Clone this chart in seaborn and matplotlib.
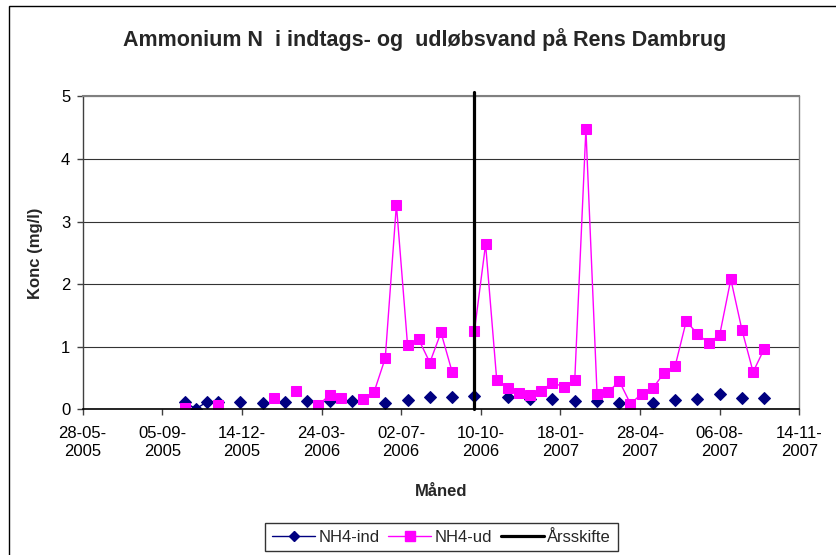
import matplotlib
matplotlib.use("Agg")
import matplotlib.pyplot as plt
from matplotlib.lines import Line2D
from matplotlib.patches import Rectangle
import pandas as pd
import seaborn as sns

# NH4 ind (indtag) - maalinger
ind_dates = ["2005-10-03", "2005-10-17", "2005-10-31", "2005-11-14", "2005-12-12",
             "2006-01-09", "2006-02-06", "2006-03-06", "2006-04-03", "2006-05-01",
             "2006-06-12", "2006-07-10", "2006-08-07", "2006-09-04", "2006-10-02",
             "2006-11-13", "2006-12-11", "2007-01-08", "2007-02-05", "2007-03-05",
             "2007-04-02", "2007-05-14", "2007-06-11", "2007-07-09", "2007-08-06",
             "2007-09-03", "2007-10-01"]
ind_vals = [0.12, 0.01, 0.12, 0.12, 0.12,
            0.10, 0.12, 0.14, 0.14, 0.14,
            0.10, 0.15, 0.20, 0.20, 0.21,
            0.20, 0.16, 0.16, 0.14, 0.14,
            0.11, 0.11, 0.15, 0.16, 0.25,
            0.18, 0.19]
# sammenhaengende stykker (tomme celler giver huller)
ind_seg = [0, 0, 0, 0, 1,
           2, 3, 4, 5, 6,
           7, 8, 9, 10, 11,
           12, 13, 14, 15, 16,
           17, 18, 19, 20, 21,
           22, 23]

# NH4 ud (udloeb)
ud_dates = ["2005-10-03", "2005-11-14", "2006-01-23", "2006-02-20", "2006-03-20",
            "2006-04-03", "2006-04-17", "2006-05-15", "2006-05-29", "2006-06-12",
            "2006-06-26", "2006-07-10", "2006-07-24", "2006-08-07", "2006-08-21",
            "2006-09-04", "2006-10-02", "2006-10-16", "2006-10-30", "2006-11-13",
            "2006-11-27", "2006-12-11", "2006-12-25", "2007-01-08", "2007-01-22",
            "2007-02-05", "2007-02-19", "2007-03-05", "2007-03-19", "2007-04-02",
            "2007-04-16", "2007-04-30", "2007-05-14", "2007-05-28", "2007-06-11",
            "2007-06-25", "2007-07-09", "2007-07-23", "2007-08-06", "2007-08-20",
            "2007-09-03", "2007-09-17", "2007-10-01"]
ud_vals = [0.03, 0.07, 0.19, 0.30, 0.07,
           0.23, 0.19, 0.17, 0.28, 0.82,
           3.27, 1.03, 1.12, 0.75, 1.23,
           0.60, 1.25, 2.64, 0.47, 0.34,
           0.27, 0.23, 0.30, 0.43, 0.36,
           0.47, 4.48, 0.25, 0.28, 0.45,
           0.09, 0.25, 0.34, 0.58, 0.69,
           1.41, 1.21, 1.06, 1.19, 2.08,
           1.27, 0.60, 0.97]
ud_seg = [0, 1, 2, 3, 4,
          4, 4, 5, 5, 5,
          5, 5, 5, 5, 5,
          5, 6, 6, 6, 6,
          6, 6, 6, 6, 6,
          6, 6, 6, 6, 6,
          6, 6, 6, 6, 6,
          6, 6, 6, 6, 6,
          6, 6, 6]

aarsskifte = "2006-10-01"

x_ticks = ["2005-05-28", "2005-09-05", "2005-12-14", "2006-03-24", "2006-07-02",
           "2006-10-10", "2007-01-18", "2007-04-28", "2007-08-06", "2007-11-14"]

sns.set_style("white")
plt.rcParams["font.family"] = ["Liberation Sans", "DejaVu Sans"]

df_ind = pd.DataFrame({"dato": pd.to_datetime(ind_dates), "konc": ind_vals, "seg": ind_seg})
df_ud = pd.DataFrame({"dato": pd.to_datetime(ud_dates), "konc": ud_vals, "seg": ud_seg})

IND_COL = "#000080"
UD_COL = "#FF00FF"

fig = plt.figure(figsize=(8.36, 5.55), dpi=100)
ax = fig.add_axes([0.0989, 0.2622, 0.8572, 0.5640])

sns.lineplot(data=df_ind, x="dato", y="konc", units="seg", estimator=None,
             color=IND_COL, lw=1, marker="D", markersize=6.5,
             markeredgecolor=IND_COL, ax=ax, legend=False)
sns.lineplot(data=df_ud, x="dato", y="konc", units="seg", estimator=None,
             color=UD_COL, lw=1, marker="s", markersize=6.5,
             markeredgecolor=UD_COL, ax=ax, legend=False)

ax.plot([pd.Timestamp(aarsskifte)] * 2, [0, 5.07], color="black", lw=2.3,
        clip_on=False, zorder=5)

ticks = pd.to_datetime(x_ticks)
ax.set_xlim(ticks[0], ticks[-1])
ax.set_xticks(ticks)
ax.set_xticklabels([t.strftime("%d-%m-\n%Y") for t in ticks])
ax.set_ylim(0, 5)
ax.set_yticks(range(6))

ax.yaxis.grid(True, color="#333333", lw=0.8)
ax.xaxis.grid(False)
ax.set_xlabel("")
ax.set_ylabel("")

ax.spines["top"].set_color("#808080")
ax.spines["top"].set_linewidth(1.5)
ax.spines["right"].set_color("#808080")
ax.spines["right"].set_linewidth(1.0)
ax.spines["left"].set_color("#404040")
ax.spines["left"].set_linewidth(1.0)
ax.spines["bottom"].set_color("black")
ax.spines["bottom"].set_linewidth(1.2)

ax.tick_params(axis="both", bottom=True, left=True, direction="out", length=4,
               width=1, color="#404040", labelsize=12, labelcolor="black")
ax.tick_params(axis="x", pad=8)
ax.tick_params(axis="y", pad=5)

fig.text(0.508, 0.928, "Ammonium N  i indtags- og  udløbsvand på Rens Dambrug",
         ha="center", va="center", fontsize=15.5, fontweight="bold")
fig.text(0.042, 0.544, "Konc (mg/l)", rotation=90, ha="center", va="center",
         fontsize=12, fontweight="bold")
fig.text(0.5275, 0.1153, "Måned", ha="center", va="center",
         fontsize=12, fontweight="bold")

handles = [
    Line2D([], [], color=IND_COL, lw=1, marker="D", markersize=5.5),
    Line2D([], [], color=UD_COL, lw=1, marker="s", markersize=6.5),
    Line2D([], [], color="black", lw=2.3),
]
leg = fig.legend(handles, ["NH4-ind", "NH4-ud", "Årsskifte"], ncol=3,
                 loc="upper center", bbox_to_anchor=(0.528, 0.0577),
                 fontsize=12, frameon=True, fancybox=False, handlelength=2.6,
                 handletextpad=0.2, columnspacing=0.5, borderpad=0.4,
                 borderaxespad=0)
leg.get_frame().set_edgecolor("black")
leg.get_frame().set_linewidth(1.0)

# ramme om hele diagrammet
fig.patches.append(Rectangle((9 / 836, -0.2), 1.2, 0.989 + 0.2,
                             transform=fig.transFigure, fill=False,
                             edgecolor="black", lw=1.0))

fig.savefig("out.png", dpi=100)
